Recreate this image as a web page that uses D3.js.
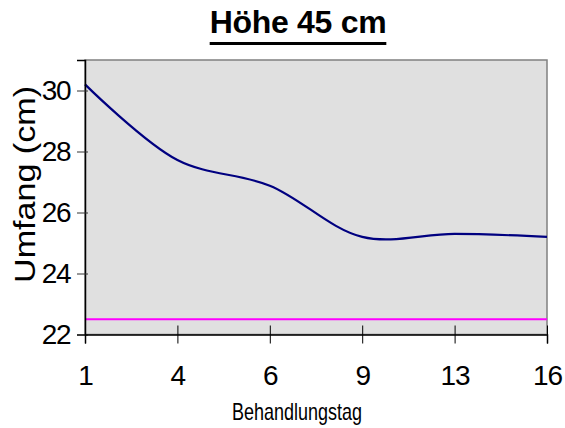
<!DOCTYPE html>
<html>
<head>
<meta charset="utf-8">
<script src="https://cdn.jsdelivr.net/npm/d3@7"></script>
<style>
  body { margin: 0; background: #fff; }
  text { font-family: Arial, "Liberation Sans", sans-serif; fill: #000; }
</style>
</head>
<body>
<div id="chart"></div>
<script>
// data
const days = ["1", "4", "6", "9", "13", "16"];
const umfang = [30.2, 27.72, 26.88, 25.2, 25.3, 25.2];
const grenze = [22.5, 22.5, 22.5, 22.5, 22.5, 22.5];
const yTicks = [22, 24, 26, 28, 30];

const W = 565, H = 428;
const margin = { top: 60, right: 18, bottom: 93.5, left: 85 };
const width = W - margin.left - margin.right;
const height = H - margin.top - margin.bottom;

const svg = d3.select('#chart').append('svg')
    .attr('width', W)
    .attr('height', H);

const g = svg.append('g')
    .attr('transform', 'translate(' + margin.left + ',' + margin.top + ')');

// scales
const x = d3.scalePoint().domain(days).range([0, width]);
const y = d3.scaleLinear().domain([22, 31]).range([height, 0]);

// plot area
g.append('rect')
    .attr('width', width)
    .attr('height', height)
    .attr('fill', '#e0e0e0')
    .attr('stroke', '#808080')
    .attr('stroke-width', 1.5);

// lines
const line = d3.line()
    .x((d, i) => x(days[i]))
    .y(d => y(d))
    .curve(d3.curveCatmullRom.alpha(0.5));

g.append('path')
    .datum(grenze)
    .attr('d', line)
    .attr('fill', 'none')
    .attr('stroke', '#ff00ff')
    .attr('stroke-width', 2.2);

g.append('path')
    .datum(umfang)
    .attr('d', line)
    .attr('fill', 'none')
    .attr('stroke', '#000080')
    .attr('stroke-width', 2.2);

// y axis
const yAxis = g.append('g')
    .call(d3.axisLeft(y).tickValues(yTicks).tickSize(8).tickPadding(7));
yAxis.select('.domain').attr('stroke', '#000').attr('stroke-width', 1.5);
yAxis.selectAll('.tick line').attr('x2', -8).attr('x1', 3).attr('stroke', '#333');
yAxis.selectAll('.tick text')
    .style('font-size', '28px')
    .style('letter-spacing', '-1.5px');

// x axis
const xAxis = g.append('g')
    .attr('transform', 'translate(0,' + height + ')')
    .call(d3.axisBottom(x).tickSize(9).tickPadding(22));
xAxis.select('.domain').attr('stroke', '#000').attr('stroke-width', 1.5);
xAxis.selectAll('.tick line').attr('y1', -9).attr('stroke', '#000');
xAxis.selectAll('.tick text')
    .style('font-size', '28px')
    .style('letter-spacing', '-1px');

// title
const title = svg.append('text')
    .attr('x', 298)
    .attr('y', 33)
    .attr('text-anchor', 'middle')
    .style('font-size', '32px')
    .style('font-weight', 'bold')
    .style('letter-spacing', '-0.3px')
    .text('Höhe 45 cm');
const tw = title.node().getComputedTextLength();
svg.append('rect')
    .attr('x', 298 - tw / 2)
    .attr('y', 42)
    .attr('width', tw)
    .attr('height', 3)
    .attr('fill', '#000');

// axis titles
svg.append('text')
    .attr('x', 297)
    .attr('y', 420)
    .attr('text-anchor', 'middle')
    .attr('textLength', 130)
    .attr('lengthAdjust', 'spacingAndGlyphs')
    .style('font-size', '24px')
    .text('Behandlungstag');

svg.append('text')
    .attr('transform', 'translate(35,' + 184.5 + ')rotate(-90)')
    .attr('text-anchor', 'middle')
    .attr('textLength', 197)
    .attr('lengthAdjust', 'spacingAndGlyphs')
    .style('font-size', '30px')
    .text('Umfang (cm)');
</script>
</body>
</html>
